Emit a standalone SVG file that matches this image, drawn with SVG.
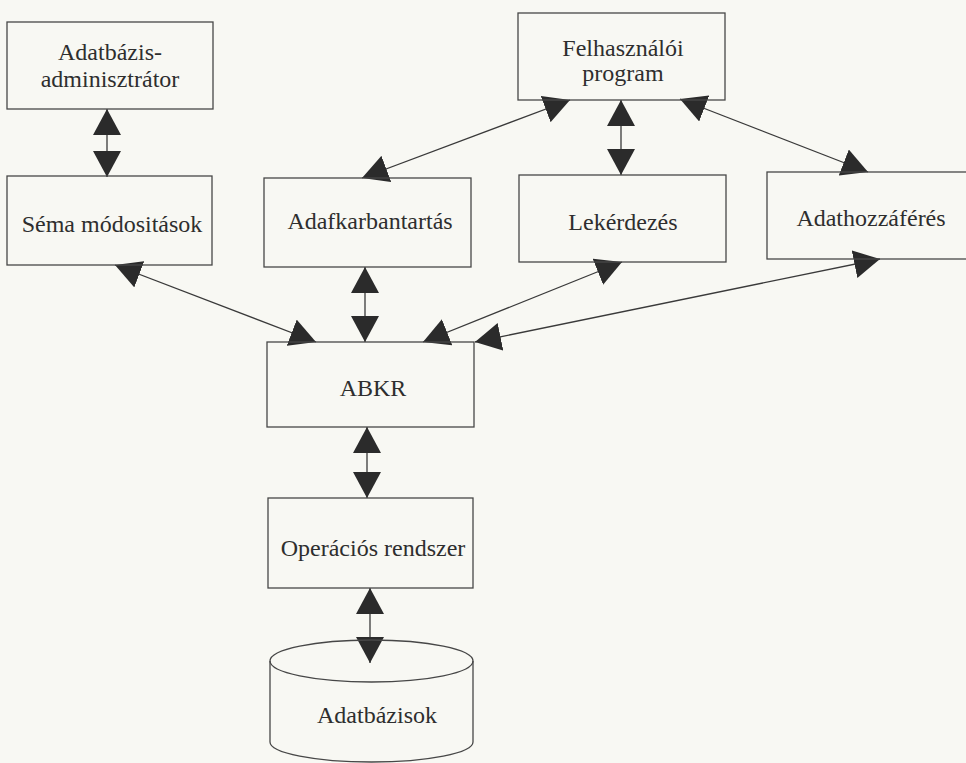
<svg xmlns="http://www.w3.org/2000/svg" width="966" height="763" viewBox="0 0 966 763">
<defs>
<style>
.box{fill:none;stroke:#474747;stroke-width:1.3}
.lbl{font-family:"Liberation Serif","Times New Roman",serif;font-size:24px;fill:#2e2e2e;text-anchor:middle}
.con{stroke:#3a3a3a;stroke-width:1.3;fill:none;marker-start:url(#ah);marker-end:url(#ah)}
</style>
<marker id="ah" markerUnits="userSpaceOnUse" markerWidth="26" markerHeight="28" viewBox="0 0 26 28" refX="26" refY="14" orient="auto-start-reverse">
<path d="M0,0 L26,14 L0,28 Z" fill="#2b2b2b"/>
</marker>
</defs>
<rect x="0" y="0" width="966" height="763" fill="#f8f8f3"/>

<g id="connectors">
<line class="con" x1="107" y1="109" x2="107" y2="177"/>
<line class="con" x1="362" y1="178" x2="570" y2="100"/>
<line class="con" x1="621" y1="100" x2="621" y2="175"/>
<line class="con" x1="680" y1="99" x2="868" y2="172"/>
<line class="con" x1="115" y1="265" x2="316" y2="342"/>
<line class="con" x1="365" y1="267" x2="365" y2="342"/>
<line class="con" x1="622" y1="262" x2="423" y2="342"/>
<line class="con" x1="880" y1="259" x2="475" y2="342"/>
<line class="con" x1="367" y1="427" x2="367" y2="498"/>
<line class="con" x1="370" y1="588" x2="370" y2="663"/>
</g>

<g id="admin">
<rect class="box" x="7" y="22" width="206" height="87"/>
<text class="lbl" x="110" y="60">Adatbázis-</text>
<text class="lbl" x="110" y="87">adminisztrátor</text>
</g>

<g id="sema">
<rect class="box" x="7" y="176" width="205" height="89"/>
<text class="lbl" x="112" y="232">Séma módositások</text>
</g>

<g id="adatkarbantartas">
<rect class="box" x="264" y="178" width="207" height="89"/>
<text class="lbl" x="370" y="229">Adafkarbantartás</text>
</g>

<g id="felhasznaloi">
<rect class="box" x="518" y="13" width="207" height="87"/>
<text class="lbl" x="623" y="56">Felhasználói</text>
<text class="lbl" x="623" y="81">program</text>
</g>

<g id="lekerdezes">
<rect class="box" x="519" y="175" width="207" height="87"/>
<text class="lbl" x="623" y="230">Lekérdezés</text>
</g>

<g id="adathozzaferes">
<rect class="box" x="767" y="172" width="208" height="87"/>
<text class="lbl" x="871" y="226">Adathozzáférés</text>
</g>

<g id="abkr">
<rect class="box" x="267" y="342" width="207" height="85"/>
<text class="lbl" x="373" y="396">ABKR</text>
</g>

<g id="operacios">
<rect class="box" x="268" y="498" width="205" height="90"/>
<text class="lbl" x="373" y="556">Operációs rendszer</text>
</g>

<g id="adatbazisok">
<path class="box" d="M270,661 L270,742 A101.5,20 0 0 0 473,742 L473,661"/>
<ellipse class="box" cx="371.5" cy="661" rx="101.5" ry="21"/>
<text class="lbl" x="377" y="723">Adatbázisok</text>
</g>
</svg>
